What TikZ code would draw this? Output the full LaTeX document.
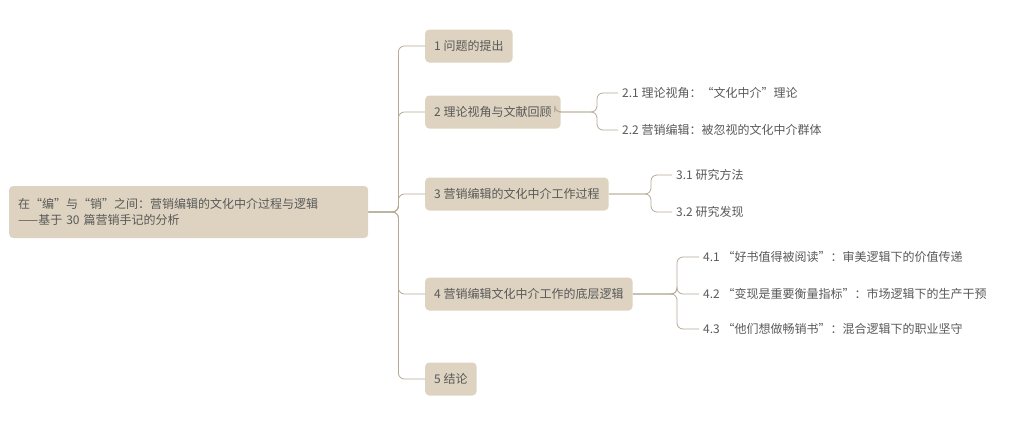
\documentclass[tikz,border=0pt]{standalone}
\usepackage{fontspec}
\setmainfont{Noto Sans CJK SC}
\begin{document}
\begin{tikzpicture}[x=1pt,y=-1pt,
  every node/.style={font=\fontsize{12}{16}\selectfont, text=black!65},
  box/.style={fill=boxc, rounded corners=4pt, anchor=west, inner xsep=9pt, minimum height=33pt, drop shadow/.style={}},
  leaf/.style={anchor=west, inner xsep=4pt},
  link/.style={draw=linec, line width=0.8pt, rounded corners=6pt}]
\definecolor{boxc}{HTML}{DDD3C0}
\definecolor{linec}{HTML}{B5AA95}
\useasboundingbox (0,0) rectangle (1031,426);
\node[fill=boxc, rounded corners=4pt, anchor=west, inner xsep=9pt, inner ysep=6pt, minimum height=52pt, align=left, text width=341pt] (root) at (9,212) {在“编”与“销”之间：营销编辑的文化中介过程与逻辑\\——基于 30 篇营销手记的分析};
\node[box] (c1) at (425,46) {1 问题的提出};
\node[box] (c2) at (425,112) {2 理论视角与文献回顾};
\node[box] (c3) at (425,194) {3 营销编辑的文化中介工作过程};
\node[box] (c4) at (425,294) {4 营销编辑文化中介工作的底层逻辑};
\node[box] (c5) at (425,379) {5 结论};
\node[leaf] (c21) at (618,93) {2.1 理论视角：“文化中介”理论};
\node[leaf] (c22) at (618,130) {2.2 营销编辑：被忽视的文化中介群体};
\node[leaf] (c31) at (672,175) {3.1 研究方法};
\node[leaf] (c32) at (672,212) {3.2 研究发现};
\node[leaf] (c41) at (699,257) {4.1 “好书值得被阅读”：审美逻辑下的价值传递};
\node[leaf] (c42) at (699,294) {4.2 “变现是重要衡量指标”：市场逻辑下的生产干预};
\node[leaf] (c43) at (699,329) {4.3 “他们想做畅销书”：混合逻辑下的职业坚守};
\foreach \c in {c1,c2,c3,c4,c5}
  \draw[link] (root.east) -- ++(30,0) |- (\c.west);
\foreach \c in {c21,c22}
  \draw[link] (c2.east) -- ++(-6,0) -- ++(0,0) (c2.east) -- (597,112) |- (\c.west);
\foreach \c in {c31,c32}
  \draw[link] (c3.east) -- (651,194) |- (\c.west);
\foreach \c in {c41,c42,c43}
  \draw[link] (c4.east) -- (677,294) |- (\c.west);
\end{tikzpicture}
\end{document}
